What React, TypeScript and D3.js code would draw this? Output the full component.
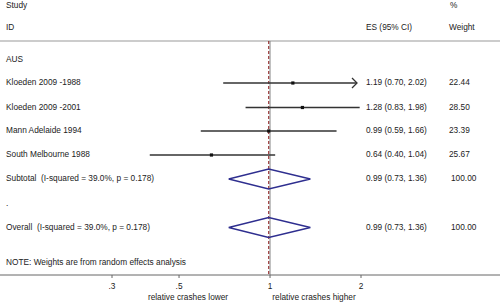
import React from "react";
import * as d3 from "d3";

const studies = ["Kloeden 2009 -1988", "Kloeden 2009 -2001", "Mann Adelaide 1994", "South Melbourne 1988"];
const es = [1.19, 1.28, 0.99, 0.64];
const lo = [0.70, 0.83, 0.59, 0.40];
const hi = [2.02, 1.98, 1.66, 1.04];
const weights = ["22.44", "28.50", "23.39", "25.67"];
const pooled = { es: 0.99, lo: 0.73, hi: 1.36 };
const tickValues = [0.3, 0.5, 1, 2];
const tickLabels = [".3", ".5", "1", "2"];

const W = 500, H = 304;
const FONT = "'Liberation Sans', Arial, sans-serif";

export default function App() {
  const x = d3.scaleLog().domain([0.3, 2]).range([112, 361]);
  const xMax = 2;
  const rowY = [83, 107.5, 131, 155];
  const subY = 179, overY = 227.5;
  const topY = 41, axisY = 275;
  const textColor = "#222";
  const fs = 8.3;
  const fmt = (v: number) => v.toFixed(2);
  const esText = (i: number) => `${fmt(es[i])} (${fmt(lo[i])}, ${fmt(hi[i])})`;
  const pooledText = `${fmt(pooled.es)} (${fmt(pooled.lo)}, ${fmt(pooled.hi)})`;
  const diamond = (y: number) =>
    `M${x(pooled.lo)},${y} L${x(pooled.es)},${y - 10} L${x(pooled.hi)},${y} L${x(pooled.es)},${y + 10} Z`;
  const T = (props: any) => (
    <text fontFamily={FONT} fontSize={fs} fill={textColor} dominantBaseline="middle" style={{ whiteSpace: "pre" }} {...props} />
  );
  return (
    <svg width={W} height={H} style={{ position: "absolute", left: 0, top: 0, background: "#fff" }}>
      <rect width={W} height={H} fill="#fff" />
      <T x={6} y={6}>Study</T>
      <T x={6} y={28}>ID</T>
      <T x={366} y={28}>ES (95% CI)</T>
      <T x={450} y={6}>%</T>
      <T x={449} y={28}>Weight</T>
      <line x1={0} x2={W} y1={topY} y2={topY} stroke="#999" strokeWidth={1} />
      <T x={6} y={59.5}>AUS</T>

      <line x1={x(1)} x2={x(1)} y1={topY} y2={axisY} stroke="#888" strokeWidth={1} />
      <line x1={x(pooled.es)} x2={x(pooled.es)} y1={topY} y2={axisY} stroke="#8b1c1c" strokeWidth={1} strokeDasharray="3,2" />

      {studies.map((s, i) => {
        const y = rowY[i];
        const clipped = hi[i] > xMax;
        const x2 = clipped ? x(xMax) - 4 : x(hi[i]);
        return (
          <g key={s}>
            <T x={6} y={y}>{s}</T>
            <line x1={x(lo[i])} x2={x2} y1={y} y2={y} stroke="#333" strokeWidth={1.3} />
            {clipped && (
              <path d={`M${x2 - 5},${y - 5} L${x2},${y} L${x2 - 5},${y + 5}`} fill="none" stroke="#333" strokeWidth={1.3} />
            )}
            <rect x={x(es[i]) - 1.6} y={y - 1.6} width={3.2} height={3.2} fill="#111" />
            <T x={366} y={y}>{esText(i)}</T>
            <T x={449} y={y}>{weights[i]}</T>
          </g>
        );
      })}

      <T x={6} y={subY}>{"Subtotal  (I-squared = 39.0%, p = 0.178)"}</T>
      <path d={diamond(subY)} fill="none" stroke="#2e2e8f" strokeWidth={1.3} />
      <T x={366} y={subY}>{pooledText}</T>
      <T x={451} y={subY}>100.00</T>

      <T x={6} y={204}>.</T>

      <T x={6} y={overY}>{"Overall  (I-squared = 39.0%, p = 0.178)"}</T>
      <path d={diamond(overY)} fill="none" stroke="#2e2e8f" strokeWidth={1.3} />
      <T x={366} y={overY}>{pooledText}</T>
      <T x={451} y={overY}>100.00</T>

      <T x={6} y={263}>NOTE: Weights are from random effects analysis</T>

      <line x1={0} x2={W} y1={axisY} y2={axisY} stroke="#666" strokeWidth={1} />
      {tickValues.map((v, i) => (
        <g key={v}>
          <line x1={x(v)} x2={x(v)} y1={axisY} y2={axisY + 3} stroke="#666" strokeWidth={1} />
          <T x={x(v)} y={287} textAnchor="middle">{tickLabels[i]}</T>
        </g>
      ))}
      <T x={188} y={297.5} textAnchor="middle">relative crashes lower</T>
      <T x={314} y={297.5} textAnchor="middle">relative crashes higher</T>
    </svg>
  );
}
